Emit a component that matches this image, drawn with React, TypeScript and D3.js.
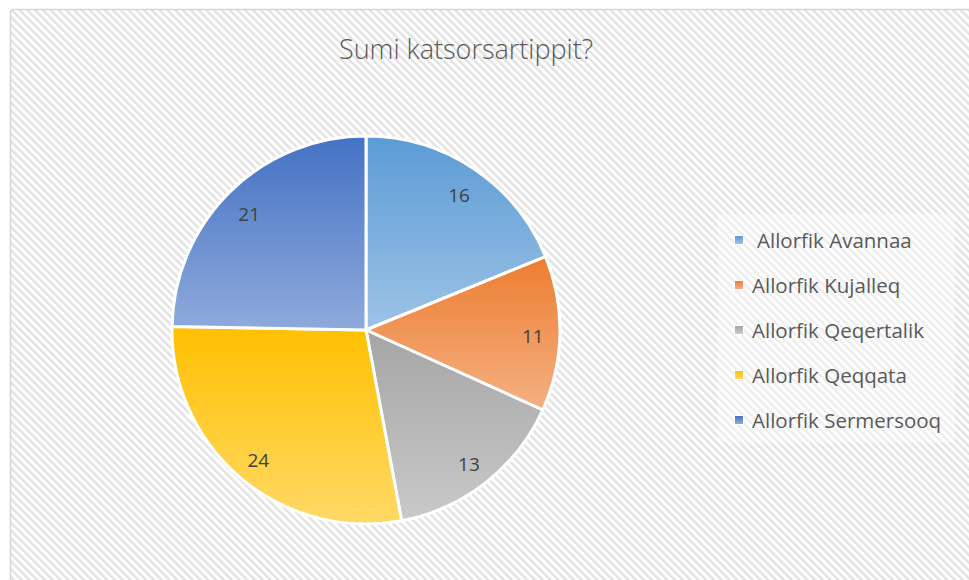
import React from "react";
import * as d3 from "d3";

const categories = ["Allorfik Avannaa", "Allorfik Kujalleq", "Allorfik Qeqertalik", "Allorfik Qeqqata", "Allorfik Sermersooq"];
const values = [16, 11, 13, 24, 21];
const topColors = ["#5b9bd5", "#ed7d31", "#a5a5a5", "#ffc000", "#4472c4"];
const bottomColors = ["#9dc3e6", "#f4b183", "#c9c9c9", "#ffd966", "#8faadc"];
const title = "Sumi katsorsartippit?";

const W = 969, H = 580;
const cx = 366, cy = 330, R = 194;

export default function App() {
  const pie = d3.pie<number>().sort(null).value((d) => d);
  const arcs = pie(values);
  const arcGen = d3.arc<d3.PieArcDatum<number>>().innerRadius(0).outerRadius(R);
  const labelArc = d3.arc<d3.PieArcDatum<number>>().innerRadius(R * 0.86).outerRadius(R * 0.86);
  const legendY = d3.scalePoint<string>().domain(categories).range([240, 420]);

  return (
    <svg width={W} height={H} style={{ position: "absolute", left: 0, top: 0 }}>
      <defs>
        <pattern id="hatch" width="5.5" height="5.5" patternUnits="userSpaceOnUse" patternTransform="rotate(-45)">
          <rect width="5.5" height="5.5" fill="#ffffff" />
          <rect width="2.4" height="5.5" fill="#e2e2e2" />
        </pattern>
        {categories.map((c, i) => (
          <linearGradient key={c} id={`g${i}`} x1="0" y1="0" x2="0" y2="1">
            <stop offset="0" stopColor={topColors[i]} />
            <stop offset="1" stopColor={bottomColors[i]} />
          </linearGradient>
        ))}
      </defs>
      <rect x={0} y={0} width={W} height={H} fill="#ffffff" />
      <rect x={11} y={10} width={W} height={H} fill="url(#hatch)" />
      <line x1={11} y1={9.5} x2={W} y2={9.5} stroke="#d6d6d6" strokeWidth={1.5} />
      <line x1={10.5} y1={10} x2={10.5} y2={H} stroke="#d6d6d6" strokeWidth={1.5} />
      <text x={466} y={59} textAnchor="middle" fontFamily="'Open Sans', sans-serif" fontWeight={300} fontSize={27} fill="#595959">
        {title}
      </text>
      <g transform={`translate(${cx},${cy})`}>
        {arcs.map((a, i) => (
          <path key={i} d={arcGen(a) || ""} fill={`url(#g${i})`} stroke="#ffffff" strokeWidth={3} strokeLinejoin="round" />
        ))}
        {arcs.map((a, i) => {
          const [x, y] = labelArc.centroid(a);
          return (
            <text key={i} x={x} y={y + 3} textAnchor="middle" dominantBaseline="central" fontFamily="'Open Sans', sans-serif" fontSize={19} fill="#404040">
              {values[i]}
            </text>
          );
        })}
      </g>
      <rect x={718} y={214} width={237} height={229} fill="#ffffff" opacity={0.4} />
      {categories.map((c, i) => {
        const y = legendY(c) as number;
        return (
          <g key={c}>
            <rect x={734} y={y - 5} width={10} height={10} fill="#ffffff" />
            <rect x={735} y={y - 4} width={8} height={8} fill={`url(#g${i})`} />
            <text x={i === 0 ? 757 : 752} y={y} dominantBaseline="central" fontFamily="'Open Sans', sans-serif" fontSize={20.5} fill="#595959">
              {c}
            </text>
          </g>
        );
      })}
    </svg>
  );
}
